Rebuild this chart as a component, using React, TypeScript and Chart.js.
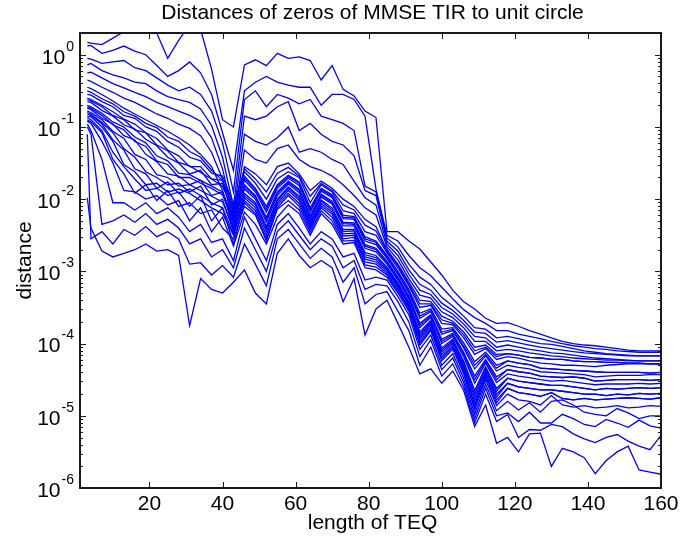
import React, { useEffect, useRef } from "react";
import { Chart, registerables } from "chart.js";

Chart.register(...registerables);

// TEQ lengths where the distances are sampled
const teqLengths = [3, 4, 7, 10, 13, 16, 19, 22, 25, 28, 31, 34, 37, 40, 43, 46, 49, 52, 55, 58, 61, 64, 67, 70, 73, 76, 79, 82, 85, 88, 91, 94, 97, 100, 103, 106, 109, 112, 115, 118, 121, 124, 127, 130, 133, 136, 139, 142, 145, 148, 151, 154, 157, 160];

// log10 of the distance of each zero to the unit circle (one array per zero)
const log10Dist01 = [-1.98, -2.40, -2.72, -2.80, -2.75, -2.70, -2.62, -2.72, -2.70, -2.78, -3.75, -3.10, -3.25, -3.30, -3.15, -2.98, -3.30, -3.45, -2.75, -2.55, -2.78, -2.95, -2.85, -2.95, -3.42, -3.10, -3.88, -3.52, -3.40, -3.72, -4.05, -4.42, -4.35, -4.55, -4.38, -4.65, -5.15, -4.85, -5.38, -5.30, -5.50, -5.25, -5.24, -5.70, -5.45, -5.50, -5.58, -5.80, -5.62, -5.50, -5.42, -5.75, -5.78, -5.81];
const log10Dist02 = [-1.10, -2.55, -2.45, -2.62, -2.42, -2.50, -2.38, -2.52, -2.45, -2.55, -2.90, -2.88, -3.05, -2.92, -3.08, -2.62, -2.90, -3.20, -2.55, -2.42, -2.62, -2.82, -2.68, -2.80, -3.15, -2.95, -3.45, -3.32, -3.28, -3.55, -3.82, -4.30, -4.05, -4.45, -4.28, -4.60, -5.10, -4.70, -5.08, -4.98, -5.30, -5.19, -5.20, -5.12, -5.15, -5.25, -5.32, -5.37, -5.30, -5.26, -5.35, -5.42, -5.47, -5.27];
const log10Dist03 = [-1.00, -1.10, -2.35, -2.30, -2.22, -2.32, -2.20, -2.35, -2.28, -2.40, -2.62, -2.55, -2.80, -2.70, -2.95, -2.40, -2.70, -3.00, -2.45, -2.30, -2.50, -2.70, -2.55, -2.65, -2.95, -2.85, -3.25, -3.18, -3.20, -3.42, -3.70, -4.18, -3.95, -4.36, -4.20, -4.54, -5.04, -4.62, -5.00, -4.96, -5.08, -4.95, -5.10, -5.10, -4.98, -5.04, -5.12, -5.15, -5.05, -5.10, -5.16, -5.06, -5.14, -5.17];
const log10Dist04 = [-0.96, -1.05, -1.45, -2.05, -2.05, -2.15, -2.05, -2.20, -2.12, -2.25, -2.45, -2.35, -2.60, -2.55, -2.85, -2.25, -2.55, -2.85, -2.35, -2.20, -2.40, -2.62, -2.45, -2.55, -2.80, -2.75, -3.12, -3.08, -3.12, -3.35, -3.60, -4.08, -3.88, -4.30, -4.14, -4.48, -4.98, -4.56, -4.93, -4.80, -4.92, -4.82, -4.95, -4.80, -4.78, -4.85, -4.95, -4.98, -5.00, -4.90, -4.96, -5.04, -5.00, -5.00];
const log10Dist05 = [-0.92, -0.95, -1.20, -1.50, -1.88, -1.90, -2.00, -1.95, -2.08, -2.02, -2.30, -2.12, -2.45, -2.25, -2.65, -2.18, -2.35, -2.62, -2.25, -2.08, -2.20, -2.50, -2.20, -2.35, -2.62, -2.60, -2.95, -2.98, -3.08, -3.30, -3.55, -4.02, -3.82, -4.24, -4.08, -4.42, -4.92, -4.50, -4.86, -4.70, -4.78, -4.80, -4.85, -4.72, -4.85, -4.88, -4.86, -4.89, -4.88, -4.86, -4.89, -4.88, -4.86, -4.87];
const log10Dist05b = [-0.90, -0.93, -1.08, -1.45, -1.65, -1.92, -1.80, -2.02, -1.88, -2.10, -2.05, -2.20, -2.15, -2.40, -2.55, -2.10, -2.22, -2.58, -2.14, -2.02, -2.15, -2.46, -2.16, -2.30, -2.58, -2.57, -2.91, -2.94, -3.05, -3.28, -3.52, -3.99, -3.80, -4.21, -4.05, -4.39, -4.88, -4.46, -4.82, -4.62, -4.68, -4.70, -4.73, -4.68, -4.76, -4.78, -4.76, -4.78, -4.77, -4.76, -4.75, -4.76, -4.77, -4.75];
const log10Dist06 = [-0.87, -0.90, -1.05, -1.35, -1.55, -1.72, -1.88, -1.85, -1.95, -1.90, -2.10, -1.95, -2.30, -2.12, -2.62, -2.05, -2.20, -2.55, -2.12, -1.95, -2.10, -2.42, -2.12, -2.25, -2.55, -2.53, -2.87, -2.90, -3.03, -3.25, -3.50, -3.96, -3.77, -4.18, -4.03, -4.36, -4.85, -4.43, -4.78, -4.62, -4.68, -4.70, -4.73, -4.68, -4.76, -4.78, -4.76, -4.78, -4.77, -4.76, -4.75, -4.76, -4.77, -4.75];
const log10Dist06b = [-0.85, -0.86, -1.00, -1.20, -1.52, -1.62, -1.80, -1.78, -1.90, -1.86, -1.92, -2.02, -2.12, -2.20, -2.50, -2.02, -2.16, -2.50, -2.08, -1.92, -2.06, -2.39, -2.09, -2.21, -2.51, -2.50, -2.83, -2.87, -3.00, -3.22, -3.48, -3.93, -3.74, -4.15, -4.00, -4.33, -4.80, -4.40, -4.74, -4.55, -4.60, -4.62, -4.64, -4.64, -4.66, -4.68, -4.70, -4.70, -4.72, -4.70, -4.71, -4.69, -4.70, -4.69];
const log10Dist07 = [-0.82, -0.84, -0.96, -1.18, -1.32, -1.58, -1.65, -1.85, -1.76, -1.92, -1.86, -1.95, -2.05, -2.12, -2.48, -1.98, -2.12, -2.45, -2.05, -1.88, -2.02, -2.36, -2.06, -2.18, -2.48, -2.47, -2.80, -2.84, -2.98, -3.20, -3.46, -3.90, -3.72, -4.12, -3.98, -4.30, -4.75, -4.37, -4.70, -4.55, -4.60, -4.62, -4.64, -4.64, -4.66, -4.68, -4.70, -4.70, -4.72, -4.70, -4.71, -4.69, -4.70, -4.69];
const log10Dist07b = [-0.80, -0.82, -0.94, -1.08, -1.30, -1.42, -1.62, -1.70, -1.80, -1.78, -1.90, -1.82, -2.08, -2.00, -2.45, -1.95, -2.08, -2.41, -2.02, -1.85, -1.99, -2.33, -2.03, -2.15, -2.45, -2.44, -2.77, -2.81, -2.96, -3.18, -3.44, -3.87, -3.70, -4.09, -3.96, -4.27, -4.70, -4.34, -4.66, -4.48, -4.52, -4.54, -4.56, -4.58, -4.58, -4.60, -4.62, -4.64, -4.62, -4.63, -4.62, -4.61, -4.62, -4.61];
const log10Dist08 = [-0.78, -0.80, -0.90, -1.06, -1.16, -1.38, -1.45, -1.66, -1.70, -1.82, -1.80, -1.88, -1.96, -2.04, -2.40, -1.92, -2.05, -2.38, -2.00, -1.83, -1.96, -2.31, -2.01, -2.12, -2.42, -2.42, -2.74, -2.78, -2.94, -3.16, -3.42, -3.84, -3.68, -4.06, -3.94, -4.24, -4.65, -4.32, -4.62, -4.48, -4.52, -4.54, -4.56, -4.58, -4.58, -4.60, -4.62, -4.64, -4.62, -4.63, -4.62, -4.61, -4.62, -4.61];
const log10Dist09 = [-0.74, -0.76, -0.88, -0.96, -1.12, -1.18, -1.38, -1.48, -1.65, -1.68, -1.80, -1.74, -1.95, -1.90, -2.36, -1.86, -2.00, -2.32, -1.95, -1.79, -1.91, -2.27, -1.97, -2.07, -2.37, -2.37, -2.68, -2.73, -2.90, -3.12, -3.38, -3.78, -3.64, -4.00, -3.90, -4.18, -4.55, -4.27, -4.54, -4.42, -4.45, -4.47, -4.50, -4.52, -4.51, -4.53, -4.55, -4.57, -4.56, -4.56, -4.56, -4.55, -4.56, -4.55];
const log10Dist09b = [-0.72, -0.74, -0.84, -0.97, -1.04, -1.20, -1.27, -1.47, -1.52, -1.70, -1.70, -1.78, -1.85, -1.94, -2.30, -1.83, -1.97, -2.28, -1.92, -1.77, -1.88, -2.25, -1.95, -2.05, -2.34, -2.35, -2.65, -2.70, -2.88, -3.10, -3.36, -3.75, -3.62, -3.97, -3.88, -4.15, -4.50, -4.24, -4.50, -4.36, -4.39, -4.41, -4.45, -4.46, -4.47, -4.46, -4.48, -4.52, -4.51, -4.50, -4.50, -4.50, -4.51, -4.50];
const log10Dist10 = [-0.70, -0.72, -0.81, -0.93, -1.00, -1.14, -1.22, -1.40, -1.47, -1.64, -1.66, -1.74, -1.82, -1.90, -2.26, -1.80, -1.95, -2.25, -1.90, -1.75, -1.86, -2.23, -1.93, -2.03, -2.32, -2.33, -2.63, -2.68, -2.86, -3.08, -3.34, -3.72, -3.60, -3.94, -3.86, -4.12, -4.45, -4.22, -4.46, -4.36, -4.39, -4.41, -4.45, -4.46, -4.47, -4.46, -4.48, -4.52, -4.51, -4.50, -4.50, -4.50, -4.51, -4.50];
const log10Dist11 = [-0.65, -0.66, -0.77, -0.85, -0.97, -1.03, -1.17, -1.26, -1.42, -1.50, -1.65, -1.60, -1.80, -1.78, -2.24, -1.74, -1.90, -2.18, -1.85, -1.71, -1.81, -2.18, -1.89, -1.98, -2.27, -2.28, -2.58, -2.63, -2.82, -3.04, -3.30, -3.65, -3.56, -3.87, -3.82, -4.06, -4.35, -4.17, -4.38, -4.30, -4.33, -4.35, -4.39, -4.40, -4.41, -4.42, -4.43, -4.46, -4.45, -4.44, -4.44, -4.44, -4.43, -4.43];
const log10Dist11b = [-0.62, -0.64, -0.72, -0.84, -0.90, -1.04, -1.08, -1.25, -1.33, -1.49, -1.54, -1.63, -1.72, -1.82, -2.16, -1.71, -1.87, -2.14, -1.82, -1.69, -1.78, -2.15, -1.87, -1.96, -2.25, -2.26, -2.55, -2.60, -2.80, -3.02, -3.28, -3.62, -3.54, -3.84, -3.80, -4.03, -4.30, -4.15, -4.34, -4.24, -4.27, -4.29, -4.34, -4.35, -4.36, -4.37, -4.38, -4.39, -4.40, -4.40, -4.40, -4.40, -4.41, -4.40];
const log10Dist12 = [-0.60, -0.62, -0.70, -0.79, -0.89, -0.96, -1.08, -1.16, -1.32, -1.40, -1.55, -1.55, -1.72, -1.74, -2.14, -1.68, -1.85, -2.10, -1.80, -1.67, -1.76, -2.12, -1.85, -1.94, -2.22, -2.24, -2.52, -2.58, -2.78, -3.00, -3.25, -3.58, -3.52, -3.80, -3.78, -3.99, -4.25, -4.12, -4.30, -4.24, -4.27, -4.29, -4.34, -4.35, -4.36, -4.37, -4.38, -4.39, -4.40, -4.40, -4.40, -4.40, -4.41, -4.40];
const log10Dist13 = [-0.55, -0.56, -0.65, -0.72, -0.84, -0.88, -1.00, -1.06, -1.20, -1.28, -1.42, -1.47, -1.64, -1.68, -2.06, -1.62, -1.78, -2.00, -1.72, -1.62, -1.70, -2.05, -1.80, -1.90, -2.16, -2.20, -2.45, -2.50, -2.74, -2.95, -3.20, -3.50, -3.47, -3.72, -3.74, -3.92, -4.15, -4.07, -4.22, -4.18, -4.20, -4.24, -4.27, -4.28, -4.30, -4.30, -4.31, -4.32, -4.30, -4.29, -4.28, -4.28, -4.28, -4.28];
const log10Dist13b = [-0.50, -0.52, -0.61, -0.68, -0.79, -0.85, -0.95, -1.01, -1.14, -1.20, -1.34, -1.42, -1.60, -1.74, -2.10, -1.58, -1.72, -1.90, -1.64, -1.56, -1.68, -1.96, -1.78, -1.88, -2.08, -2.15, -2.36, -2.44, -2.72, -2.92, -3.18, -3.45, -3.45, -3.67, -3.72, -3.88, -4.10, -4.05, -4.18, -4.14, -4.16, -4.19, -4.20, -4.22, -4.22, -4.24, -4.25, -4.25, -4.26, -4.26, -4.27, -4.27, -4.28, -4.28];
const log10Dist14 = [-0.45, -0.47, -0.55, -0.64, -0.74, -0.82, -0.90, -0.98, -1.06, -1.15, -1.25, -1.38, -1.55, -1.88, -2.42, -1.55, -1.65, -1.80, -1.55, -1.50, -1.65, -1.88, -1.75, -1.85, -2.00, -2.10, -2.28, -2.38, -2.70, -2.90, -3.15, -3.40, -3.42, -3.62, -3.69, -3.84, -4.05, -4.02, -4.15, -4.14, -4.16, -4.19, -4.20, -4.22, -4.22, -4.24, -4.25, -4.25, -4.26, -4.26, -4.27, -4.27, -4.28, -4.28];
const log10Dist15 = [-0.35, -0.37, -0.45, -0.52, -0.60, -0.66, -0.74, -0.82, -0.88, -0.96, -1.02, -1.12, -1.35, -1.72, -2.32, -1.32, -1.45, -1.50, -1.30, -1.25, -1.45, -1.55, -1.60, -1.68, -1.80, -1.95, -2.12, -2.22, -2.66, -2.84, -3.10, -3.33, -3.37, -3.56, -3.64, -3.78, -3.97, -3.97, -4.10, -4.08, -4.10, -4.13, -4.15, -4.17, -4.18, -4.20, -4.21, -4.22, -4.23, -4.23, -4.24, -4.24, -4.24, -4.24];
const log10Dist16 = [-0.25, -0.24, -0.32, -0.40, -0.46, -0.52, -0.58, -0.66, -0.72, -0.78, -0.84, -0.92, -1.15, -1.58, -2.22, -1.10, -1.20, -1.25, -1.15, -1.00, -1.35, -1.30, -1.35, -1.45, -1.52, -1.75, -1.98, -2.08, -2.62, -2.78, -3.04, -3.26, -3.32, -3.50, -3.59, -3.73, -3.90, -3.92, -4.05, -4.02, -4.05, -4.08, -4.10, -4.13, -4.14, -4.16, -4.18, -4.20, -4.21, -4.22, -4.23, -4.24, -4.24, -4.24];
const log10Dist17 = [-0.14, -0.12, -0.22, -0.28, -0.32, -0.38, -0.40, -0.50, -0.58, -0.62, -0.66, -0.75, -0.98, -1.42, -2.10, -0.85, -0.90, -0.85, -0.72, -0.65, -1.05, -0.95, -1.10, -1.20, -1.25, -1.40, -1.88, -1.95, -2.58, -2.72, -2.98, -3.18, -3.26, -3.44, -3.54, -3.68, -3.84, -3.86, -3.98, -3.96, -3.99, -4.02, -4.05, -4.07, -4.09, -4.11, -4.13, -4.14, -4.15, -4.16, -4.17, -4.17, -4.17, -4.17];
const log10Dist18 = [-0.05, -0.06, -0.12, -0.10, -0.08, -0.18, -0.22, -0.32, -0.42, -0.50, -0.45, -0.55, -0.78, -1.22, -1.90, -0.62, -0.50, -0.72, -0.55, -0.60, -0.68, -0.62, -0.85, -0.90, -0.95, -1.05, -1.82, -1.90, -2.54, -2.66, -2.90, -3.08, -3.18, -3.36, -3.48, -3.62, -3.78, -3.80, -3.92, -3.90, -3.93, -3.97, -4.00, -4.01, -4.04, -4.07, -4.10, -4.12, -4.14, -4.15, -4.16, -4.17, -4.17, -4.17];
const log10Dist19 = [0.12, 0.13, 0.02, 0.06, 0.12, 0.05, 0.00, -0.15, -0.30, -0.22, -0.10, -0.25, -0.55, -1.08, -1.60, -0.50, -0.38, -0.30, -0.38, -0.42, -0.45, -0.45, -0.70, -0.55, -0.55, -0.62, -0.85, -1.86, -2.50, -2.58, -2.78, -2.95, -3.06, -3.22, -3.38, -3.53, -3.64, -3.72, -3.82, -3.82, -3.87, -3.90, -3.93, -3.97, -4.00, -4.03, -4.05, -4.07, -4.08, -4.10, -4.11, -4.12, -4.12, -4.12];
const log10Dist20 = [0.17, 0.16, 0.14, 0.23, 0.32, 0.40, 0.45, 0.30, -0.05, 0.20, 0.42, 0.35, -0.20, -0.90, -1.00, -0.14, -0.07, -0.15, 0.02, -0.05, -0.03, -0.08, -0.35, -0.15, -0.48, -0.57, -0.78, -0.87, -2.45, -2.45, -2.58, -2.69, -2.87, -3.05, -3.26, -3.42, -3.52, -3.65, -3.72, -3.71, -3.76, -3.82, -3.87, -3.92, -3.97, -4.00, -4.02, -4.03, -4.05, -4.07, -4.09, -4.10, -4.10, -4.10];

const xTickValues = [20, 40, 60, 80, 100, 120, 140, 160];
const yDecadeExponents = [0, -1, -2, -3, -4, -5, -6];
const xMin = 1;
const xMax = 160;
const yMin = 1e-6;
const yMax = 2;

const titleText = "Distances of zeros of MMSE TIR to unit circle";
const xAxisLabel = "length of TEQ";
const yAxisLabel = "distance";

const FONT = '"Liberation Sans", Arial, Helvetica, sans-serif';

export default function App() {
  const canvasRef = useRef<HTMLCanvasElement | null>(null);

  useEffect(() => {
    const canvas = canvasRef.current;
    if (!canvas) return;
    const allSeries = [
      log10Dist01, log10Dist02, log10Dist03, log10Dist04, log10Dist05, log10Dist05b,
      log10Dist06, log10Dist06b, log10Dist07, log10Dist07b, log10Dist08, log10Dist09,
      log10Dist09b, log10Dist10, log10Dist11, log10Dist11b, log10Dist12, log10Dist13,
      log10Dist13b, log10Dist14, log10Dist15, log10Dist16, log10Dist17, log10Dist18,
      log10Dist19, log10Dist20,
    ];
    const datasets = allSeries.map((s, k) => ({
      label: "zero " + (k + 1),
      data: s.map((e, i) => ({ x: teqLengths[i], y: Math.pow(10, e) })),
      borderColor: "#0000ff",
      borderWidth: 1.3,
      pointRadius: 0,
      fill: false,
      tension: 0,
      clip: 0,
    }));

    const matlabAxes = {
      id: "matlabAxes",
      beforeDraw(chart: any) {
        const c = chart.ctx;
        c.save();
        c.fillStyle = "#ffffff";
        c.fillRect(0, 0, chart.width, chart.height);
        c.restore();
      },
      afterDraw(chart: any) {
        const c = chart.ctx as CanvasRenderingContext2D;
        const a = chart.chartArea;
        const xs = chart.scales.x;
        const ys = chart.scales.y;
        c.save();
        c.strokeStyle = "#1a1a1a";
        c.fillStyle = "#000000";
        c.lineWidth = 1;
        c.beginPath();
        for (const v of xTickValues) {
          const px = Math.round(xs.getPixelForValue(v)) + 0.5;
          c.moveTo(px, a.bottom);
          c.lineTo(px, a.bottom - 6);
          c.moveTo(px, a.top);
          c.lineTo(px, a.top + 6);
        }
        for (const d of yDecadeExponents) {
          const py = Math.round(ys.getPixelForValue(Math.pow(10, d))) + 0.5;
          c.moveTo(a.left, py);
          c.lineTo(a.left + 6, py);
          c.moveTo(a.right, py);
          c.lineTo(a.right - 6, py);
          for (let m = 2; m <= 9; m++) {
            const v = m * Math.pow(10, d);
            if (v > yMax || v < yMin) continue;
            const pm = Math.round(ys.getPixelForValue(v)) + 0.5;
            c.moveTo(a.left, pm);
            c.lineTo(a.left + 3, pm);
            c.moveTo(a.right, pm);
            c.lineTo(a.right - 3, pm);
          }
        }
        c.stroke();
        c.lineWidth = 2;
        c.strokeRect(a.left, a.top, a.right - a.left, a.bottom - a.top);

        // x tick labels
        c.font = "21px " + FONT;
        c.textAlign = "center";
        c.textBaseline = "top";
        for (const v of xTickValues) {
          c.fillText(String(v), xs.getPixelForValue(v), a.bottom + 6);
        }
        // y tick labels 10^d
        for (const d of yDecadeExponents) {
          const py = ys.getPixelForValue(Math.pow(10, d));
          const exp = d === 0 ? "0" : "-" + String(-d);
          c.font = "14px " + FONT;
          const ew = c.measureText(exp).width;
          const expRight = a.left - 6;
          c.textAlign = "right";
          c.textBaseline = "middle";
          c.fillText(exp, expRight, py - 8);
          c.font = "21px " + FONT;
          c.fillText("10", expRight - ew - 1, py + 3);
        }
        // title and axis labels
        c.font = "21px " + FONT;
        c.textAlign = "center";
        c.textBaseline = "middle";
        c.fillText(titleText, (a.left + a.right) / 2 + 2, 13);
        c.fillText(xAxisLabel, (a.left + a.right) / 2 + 2, 523);
        c.save();
        c.translate(25, (a.top + a.bottom) / 2);
        c.rotate(-Math.PI / 2);
        c.fillText(yAxisLabel, 0, 0);
        c.restore();
        c.restore();
      },
    };

    const chart = new Chart(canvas, {
      type: "line",
      data: { datasets },
      options: {
        animation: false,
        responsive: false,
        devicePixelRatio: 1,
        layout: { padding: { left: 80, right: 38, top: 33, bottom: 52 } },
        plugins: {
          legend: { display: false },
          tooltip: { enabled: false },
          title: { display: false },
        },
        scales: {
          x: { type: "linear", min: xMin, max: xMax, display: false },
          y: { type: "logarithmic", min: yMin, max: yMax, display: false },
        },
      },
      plugins: [matlabAxes],
    } as any);
    return () => chart.destroy();
  }, []);

  return (
    <div style={{ position: "absolute", left: 0, top: 0, width: 699, height: 540, background: "#ffffff" }}>
      <canvas ref={canvasRef} width={699} height={540} style={{ display: "block" }} />
    </div>
  );
}
